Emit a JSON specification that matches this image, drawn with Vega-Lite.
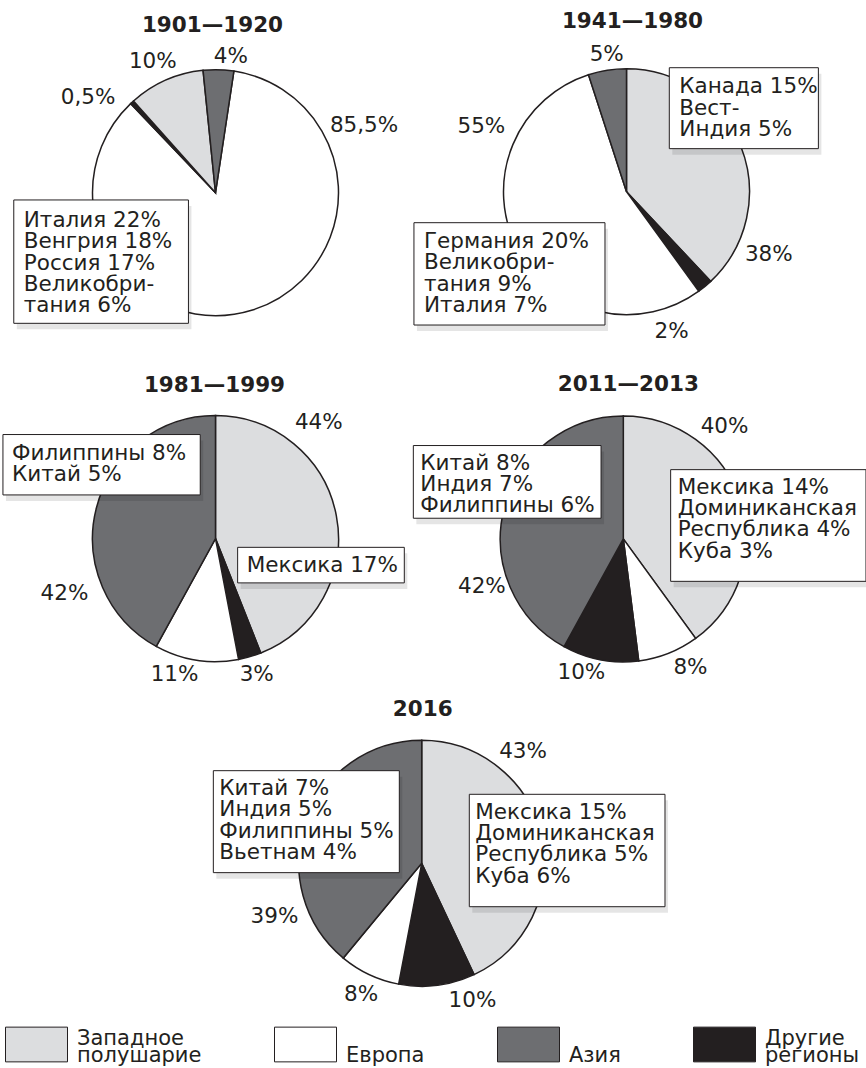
{
  "$schema": "https://vega.github.io/schema/vega-lite/v6.json",
  "padding": {"left": 0, "top": 11, "right": 0, "bottom": 0},
  "background": "white",
  "config": {
    "view": {"stroke": null},
    "font": "DejaVu Sans",
    "title": {"font": "DejaVu Sans", "fontSize": 21.5, "fontWeight": "bold", "color": "#231f20", "offset": 9, "anchor": "middle", "frame": "group"},
    "text": {"font": "DejaVu Sans", "fontSize": 21.5, "color": "#231f20"},
    "legend": {"orient": "bottom", "direction": "horizontal", "symbolType": "M-1,-0.56H1V0.56H-1Z", "symbolSize": 3844, "symbolStrokeColor": "#231f20", "symbolStrokeWidth": 1, "labelFont": "DejaVu Sans", "labelFontSize": 21, "labelColor": "#231f20", "labelOffset": 9, "labelBaseline": "alphabetic", "columnPadding": 70, "offset": -4, "padding": 5, "labelLimit": 300},
    "style": {"guide-label": {"lineHeight": 17.5}}
  },
  "datasets": {
    "shares": [
      {"period": "1901—1920", "region": "Европа", "share": 85.5, "k": 1},
      {"period": "1901—1920", "region": "Другие регионы", "share": 0.5, "k": 2},
      {"period": "1901—1920", "region": "Западное полушарие", "share": 10, "k": 3},
      {"period": "1901—1920", "region": "Азия", "share": 4, "k": 4},
      {"period": "1941—1980", "region": "Западное полушарие", "share": 38, "k": 1},
      {"period": "1941—1980", "region": "Другие регионы", "share": 2, "k": 2},
      {"period": "1941—1980", "region": "Европа", "share": 55, "k": 3},
      {"period": "1941—1980", "region": "Азия", "share": 5, "k": 4},
      {"period": "1981—1999", "region": "Западное полушарие", "share": 44, "k": 1},
      {"period": "1981—1999", "region": "Другие регионы", "share": 3, "k": 2},
      {"period": "1981—1999", "region": "Европа", "share": 11, "k": 3},
      {"period": "1981—1999", "region": "Азия", "share": 42, "k": 4},
      {"period": "2011—2013", "region": "Западное полушарие", "share": 40, "k": 1},
      {"period": "2011—2013", "region": "Европа", "share": 8, "k": 2},
      {"period": "2011—2013", "region": "Другие регионы", "share": 10, "k": 3},
      {"period": "2011—2013", "region": "Азия", "share": 42, "k": 4},
      {"period": "2016", "region": "Западное полушарие", "share": 43, "k": 1},
      {"period": "2016", "region": "Другие регионы", "share": 10, "k": 2},
      {"period": "2016", "region": "Европа", "share": 8, "k": 3},
      {"period": "2016", "region": "Азия", "share": 39, "k": 4}
    ],
    "labels": [
      {"period": "1901—1920", "text": "85,5%", "x": 1.208, "y": -0.496},
      {"period": "1901—1920", "text": "0,5%", "x": -1.036, "y": -0.721},
      {"period": "1901—1920", "text": "10%", "x": -0.51, "y": -1.011},
      {"period": "1901—1920", "text": "4%", "x": 0.124, "y": -1.057},
      {"period": "1941—1980", "text": "38%", "x": 1.157, "y": 0.561},
      {"period": "1941—1980", "text": "2%", "x": 0.367, "y": 1.192},
      {"period": "1941—1980", "text": "55%", "x": -1.18, "y": -0.475},
      {"period": "1941—1980", "text": "5%", "x": -0.161, "y": -1.063},
      {"period": "1981—1999", "text": "44%", "x": 0.84, "y": -0.892},
      {"period": "1981—1999", "text": "3%", "x": 0.335, "y": 1.16},
      {"period": "1981—1999", "text": "11%", "x": -0.333, "y": 1.16},
      {"period": "1981—1999", "text": "42%", "x": -1.228, "y": 0.498},
      {"period": "2011—2013", "text": "40%", "x": 0.823, "y": -0.859},
      {"period": "2011—2013", "text": "8%", "x": 0.546, "y": 1.098},
      {"period": "2011—2013", "text": "10%", "x": -0.341, "y": 1.138},
      {"period": "2011—2013", "text": "42%", "x": -1.15, "y": 0.439},
      {"period": "2016", "text": "43%", "x": 0.824, "y": -0.854},
      {"period": "2016", "text": "10%", "x": 0.413, "y": 1.166},
      {"period": "2016", "text": "8%", "x": -0.493, "y": 1.12},
      {"period": "2016", "text": "39%", "x": -1.197, "y": 0.488}
    ],
    "boxes": [
      {"period": "1901—1920", "x": -1.64, "x2": -0.22, "y": 0.059, "y2": 1.062, "text": "Италия 22%\nВенгрия 18%\nРоссия 17%\nВеликобри-\nтания 6%"},
      {"period": "1941—1980", "x": 0.348, "x2": 1.56, "y": -1.008, "y2": -0.35, "text": "Канада 15%\nВест-\nИндия 5%"},
      {"period": "1941—1980", "x": -1.728, "x2": -0.175, "y": 0.252, "y2": 1.084, "text": "Германия 20%\nВеликобри-\nтания 9%\nИталия 7%"},
      {"period": "1981—1999", "x": -1.728, "x2": -0.124, "y": -0.846, "y2": -0.355, "text": "Филиппины 8%\nКитай 5%"},
      {"period": "1981—1999", "x": 0.18, "x2": 1.535, "y": 0.071, "y2": 0.36, "text": "Мексика 17%"},
      {"period": "2011—2013", "x": -1.707, "x2": -0.181, "y": -0.759, "y2": -0.168, "text": "Китай 8%\nИндия 7%\nФилиппины 6%"},
      {"period": "2011—2013", "x": 0.385, "x2": 1.973, "y": -0.563, "y2": 0.345, "text": "Мексика 14%\nДоминиканская\nРеспублика 4%\nКуба 3%"},
      {"period": "2016", "x": -1.694, "x2": -0.182, "y": -0.753, "y2": 0.076, "text": "Китай 7%\nИндия 5%\nФилиппины 5%\nВьетнам  4%"},
      {"period": "2016", "x": 0.387, "x2": 1.978, "y": -0.561, "y2": 0.353, "text": "Мексика 15%\nДоминиканская\nРеспублика 5%\nКуба 6%"}
    ]
  },
  "resolve": {"scale": {"theta": "independent"}},
  "spacing": 12.7,
  "vconcat": [
    {
      "columns": 2,
      "align": "each",
      "bounds": "flush",
      "spacing": {"row": 60, "column": 0},
      "resolve": {"scale": {"theta": "independent"}},
      "concat": [
        {
          "width": 431, "height": 295.4,
          "title": {"text": "1901—1920", "offset": 9, "dx": -3},
          "layer": [
            {"data": {"name": "shares"}, "transform": [{"filter": {"field": "period", "equal": "1901—1920"}}],
             "mark": {"type": "arc", "outerRadius": 123, "stroke": "#231f20", "strokeWidth": 1.5},
             "encoding": {
               "theta": {"field": "share", "type": "quantitative", "stack": true, "scale": {"domain": [0, 100], "range": [0.15, 6.4332]}},
               "order": {"field": "k", "type": "quantitative"},
               "color": {"field": "region", "type": "nominal", "scale": {"domain": ["Западное полушарие", "Европа", "Азия", "Другие регионы"], "range": ["#dcdddf", "#ffffff", "#6d6e71", "#231f20"]}, "legend": {"title": null, "labelExpr": "indexof(datum.label, ' ') > 0 ? split(datum.label, ' ') : ['', datum.label]"}}
             }},
            {"data": {"name": "labels"}, "transform": [{"filter": {"field": "period", "equal": "1901—1920"}}],
             "mark": {"type": "text", "align": "center", "baseline": "alphabetic"},
             "encoding": {
               "x": {"field": "x", "type": "quantitative", "axis": null, "scale": {"domain": [-1.752, 1.752], "nice": false, "zero": false}},
               "y": {"field": "y", "type": "quantitative", "axis": null, "scale": {"domain": [-1.2008, 1.2008], "nice": false, "zero": false, "reverse": true}},
               "text": {"field": "text", "type": "nominal"}}},
            {"data": {"name": "boxes"}, "transform": [{"filter": {"field": "period", "equal": "1901—1920"}}],
             "mark": {"type": "rect", "fill": "#000000", "opacity": 0.1, "xOffset": 3, "x2Offset": 3, "yOffset": 6, "y2Offset": 6},
             "encoding": {
               "x": {"field": "x", "type": "quantitative", "axis": null, "scale": {"domain": [-1.752, 1.752], "nice": false, "zero": false}},
               "y": {"field": "y", "type": "quantitative", "axis": null, "scale": {"domain": [-1.2008, 1.2008], "nice": false, "zero": false, "reverse": true}},
               "x2": {"field": "x2"}, "y2": {"field": "y2"}}},
            {"data": {"name": "boxes"}, "transform": [{"filter": {"field": "period", "equal": "1901—1920"}}],
             "mark": {"type": "rect", "fill": "#ffffff", "stroke": "#231f20", "strokeWidth": 1},
             "encoding": {
               "x": {"field": "x", "type": "quantitative", "axis": null, "scale": {"domain": [-1.752, 1.752], "nice": false, "zero": false}},
               "y": {"field": "y", "type": "quantitative", "axis": null, "scale": {"domain": [-1.2008, 1.2008], "nice": false, "zero": false, "reverse": true}},
               "x2": {"field": "x2"}, "y2": {"field": "y2"}}},
            {"data": {"name": "boxes"}, "transform": [{"filter": {"field": "period", "equal": "1901—1920"}}],
             "mark": {"type": "text", "align": "left", "baseline": "alphabetic", "dx": 10, "dy": 27, "lineBreak": "\n", "lineHeight": 21.3},
             "encoding": {
               "x": {"field": "x", "type": "quantitative", "axis": null, "scale": {"domain": [-1.752, 1.752], "nice": false, "zero": false}},
               "y": {"field": "y", "type": "quantitative", "axis": null, "scale": {"domain": [-1.2008, 1.2008], "nice": false, "zero": false, "reverse": true}},
               "text": {"field": "text", "type": "nominal"}}}
          ]
        },
        {
          "width": 391, "height": 293.4,
          "title": {"text": "1941—1980", "offset": 11, "dx": 6},
          "layer": [
            {"data": {"name": "shares"}, "transform": [{"filter": {"field": "period", "equal": "1941—1980"}}],
             "mark": {"type": "arc", "outerRadius": 123, "stroke": "#231f20", "strokeWidth": 1.5},
             "encoding": {
               "theta": {"field": "share", "type": "quantitative", "stack": true, "scale": {"domain": [0, 100], "range": [0, 6.2832]}},
               "order": {"field": "k", "type": "quantitative"},
               "color": {"field": "region", "type": "nominal", "scale": {"domain": ["Западное полушарие", "Европа", "Азия", "Другие регионы"], "range": ["#dcdddf", "#ffffff", "#6d6e71", "#231f20"]}, "legend": {"title": null, "labelExpr": "indexof(datum.label, ' ') > 0 ? split(datum.label, ' ') : ['', datum.label]"}}
             }},
            {"data": {"name": "labels"}, "transform": [{"filter": {"field": "period", "equal": "1941—1980"}}],
             "mark": {"type": "text", "align": "center", "baseline": "alphabetic"},
             "encoding": {
               "x": {"field": "x", "type": "quantitative", "axis": null, "scale": {"domain": [-1.5894, 1.5894], "nice": false, "zero": false}},
               "y": {"field": "y", "type": "quantitative", "axis": null, "scale": {"domain": [-1.1927, 1.1927], "nice": false, "zero": false, "reverse": true}},
               "text": {"field": "text", "type": "nominal"}}},
            {"data": {"name": "boxes"}, "transform": [{"filter": {"field": "period", "equal": "1941—1980"}}],
             "mark": {"type": "rect", "fill": "#000000", "opacity": 0.1, "xOffset": 3, "x2Offset": 3, "yOffset": 6, "y2Offset": 6},
             "encoding": {
               "x": {"field": "x", "type": "quantitative", "axis": null, "scale": {"domain": [-1.5894, 1.5894], "nice": false, "zero": false}},
               "y": {"field": "y", "type": "quantitative", "axis": null, "scale": {"domain": [-1.1927, 1.1927], "nice": false, "zero": false, "reverse": true}},
               "x2": {"field": "x2"}, "y2": {"field": "y2"}}},
            {"data": {"name": "boxes"}, "transform": [{"filter": {"field": "period", "equal": "1941—1980"}}],
             "mark": {"type": "rect", "fill": "#ffffff", "stroke": "#231f20", "strokeWidth": 1},
             "encoding": {
               "x": {"field": "x", "type": "quantitative", "axis": null, "scale": {"domain": [-1.5894, 1.5894], "nice": false, "zero": false}},
               "y": {"field": "y", "type": "quantitative", "axis": null, "scale": {"domain": [-1.1927, 1.1927], "nice": false, "zero": false, "reverse": true}},
               "x2": {"field": "x2"}, "y2": {"field": "y2"}}},
            {"data": {"name": "boxes"}, "transform": [{"filter": {"field": "period", "equal": "1941—1980"}}],
             "mark": {"type": "text", "align": "left", "baseline": "alphabetic", "dx": 10, "dy": 25.5, "lineBreak": "\n", "lineHeight": 21.3},
             "encoding": {
               "x": {"field": "x", "type": "quantitative", "axis": null, "scale": {"domain": [-1.5894, 1.5894], "nice": false, "zero": false}},
               "y": {"field": "y", "type": "quantitative", "axis": null, "scale": {"domain": [-1.1927, 1.1927], "nice": false, "zero": false, "reverse": true}},
               "text": {"field": "text", "type": "nominal"}}}
          ]
        },
        {
          "width": 431, "height": 275.2,
          "title": {"text": "1981—1999", "offset": 4.7, "dx": -1},
          "layer": [
            {"data": {"name": "shares"}, "transform": [{"filter": {"field": "period", "equal": "1981—1999"}}],
             "mark": {"type": "arc", "outerRadius": 123, "stroke": "#231f20", "strokeWidth": 1.5},
             "encoding": {
               "theta": {"field": "share", "type": "quantitative", "stack": true, "scale": {"domain": [0, 100], "range": [0, 6.2832]}},
               "order": {"field": "k", "type": "quantitative"},
               "color": {"field": "region", "type": "nominal", "scale": {"domain": ["Западное полушарие", "Европа", "Азия", "Другие регионы"], "range": ["#dcdddf", "#ffffff", "#6d6e71", "#231f20"]}, "legend": {"title": null, "labelExpr": "indexof(datum.label, ' ') > 0 ? split(datum.label, ' ') : ['', datum.label]"}}
             }},
            {"data": {"name": "labels"}, "transform": [{"filter": {"field": "period", "equal": "1981—1999"}}],
             "mark": {"type": "text", "align": "center", "baseline": "alphabetic"},
             "encoding": {
               "x": {"field": "x", "type": "quantitative", "axis": null, "scale": {"domain": [-1.752, 1.752], "nice": false, "zero": false}},
               "y": {"field": "y", "type": "quantitative", "axis": null, "scale": {"domain": [-1.1187, 1.1187], "nice": false, "zero": false, "reverse": true}},
               "text": {"field": "text", "type": "nominal"}}},
            {"data": {"name": "boxes"}, "transform": [{"filter": {"field": "period", "equal": "1981—1999"}}],
             "mark": {"type": "rect", "fill": "#000000", "opacity": 0.1, "xOffset": 3, "x2Offset": 3, "yOffset": 6, "y2Offset": 6},
             "encoding": {
               "x": {"field": "x", "type": "quantitative", "axis": null, "scale": {"domain": [-1.752, 1.752], "nice": false, "zero": false}},
               "y": {"field": "y", "type": "quantitative", "axis": null, "scale": {"domain": [-1.1187, 1.1187], "nice": false, "zero": false, "reverse": true}},
               "x2": {"field": "x2"}, "y2": {"field": "y2"}}},
            {"data": {"name": "boxes"}, "transform": [{"filter": {"field": "period", "equal": "1981—1999"}}],
             "mark": {"type": "rect", "fill": "#ffffff", "stroke": "#231f20", "strokeWidth": 1},
             "encoding": {
               "x": {"field": "x", "type": "quantitative", "axis": null, "scale": {"domain": [-1.752, 1.752], "nice": false, "zero": false}},
               "y": {"field": "y", "type": "quantitative", "axis": null, "scale": {"domain": [-1.1187, 1.1187], "nice": false, "zero": false, "reverse": true}},
               "x2": {"field": "x2"}, "y2": {"field": "y2"}}},
            {"data": {"name": "boxes"}, "transform": [{"filter": {"field": "period", "equal": "1981—1999"}}],
             "mark": {"type": "text", "align": "left", "baseline": "alphabetic", "dx": 9, "dy": 25, "lineBreak": "\n", "lineHeight": 21.3},
             "encoding": {
               "x": {"field": "x", "type": "quantitative", "axis": null, "scale": {"domain": [-1.752, 1.752], "nice": false, "zero": false}},
               "y": {"field": "y", "type": "quantitative", "axis": null, "scale": {"domain": [-1.1187, 1.1187], "nice": false, "zero": false, "reverse": true}},
               "text": {"field": "text", "type": "nominal"}}}
          ]
        },
        {
          "width": 384.6, "height": 275.8,
          "title": {"text": "2011—2013", "offset": 5.7, "dx": 5},
          "layer": [
            {"data": {"name": "shares"}, "transform": [{"filter": {"field": "period", "equal": "2011—2013"}}],
             "mark": {"type": "arc", "outerRadius": 123, "stroke": "#231f20", "strokeWidth": 1.5},
             "encoding": {
               "theta": {"field": "share", "type": "quantitative", "stack": true, "scale": {"domain": [0, 100], "range": [0, 6.2832]}},
               "order": {"field": "k", "type": "quantitative"},
               "color": {"field": "region", "type": "nominal", "scale": {"domain": ["Западное полушарие", "Европа", "Азия", "Другие регионы"], "range": ["#dcdddf", "#ffffff", "#6d6e71", "#231f20"]}, "legend": {"title": null, "labelExpr": "indexof(datum.label, ' ') > 0 ? split(datum.label, ' ') : ['', datum.label]"}}
             }},
            {"data": {"name": "labels"}, "transform": [{"filter": {"field": "period", "equal": "2011—2013"}}],
             "mark": {"type": "text", "align": "center", "baseline": "alphabetic"},
             "encoding": {
               "x": {"field": "x", "type": "quantitative", "axis": null, "scale": {"domain": [-1.5634, 1.5634], "nice": false, "zero": false}},
               "y": {"field": "y", "type": "quantitative", "axis": null, "scale": {"domain": [-1.1211, 1.1211], "nice": false, "zero": false, "reverse": true}},
               "text": {"field": "text", "type": "nominal"}}},
            {"data": {"name": "boxes"}, "transform": [{"filter": {"field": "period", "equal": "2011—2013"}}],
             "mark": {"type": "rect", "fill": "#000000", "opacity": 0.1, "xOffset": 3, "x2Offset": 3, "yOffset": 6, "y2Offset": 6},
             "encoding": {
               "x": {"field": "x", "type": "quantitative", "axis": null, "scale": {"domain": [-1.5634, 1.5634], "nice": false, "zero": false}},
               "y": {"field": "y", "type": "quantitative", "axis": null, "scale": {"domain": [-1.1211, 1.1211], "nice": false, "zero": false, "reverse": true}},
               "x2": {"field": "x2"}, "y2": {"field": "y2"}}},
            {"data": {"name": "boxes"}, "transform": [{"filter": {"field": "period", "equal": "2011—2013"}}],
             "mark": {"type": "rect", "fill": "#ffffff", "stroke": "#231f20", "strokeWidth": 1},
             "encoding": {
               "x": {"field": "x", "type": "quantitative", "axis": null, "scale": {"domain": [-1.5634, 1.5634], "nice": false, "zero": false}},
               "y": {"field": "y", "type": "quantitative", "axis": null, "scale": {"domain": [-1.1211, 1.1211], "nice": false, "zero": false, "reverse": true}},
               "x2": {"field": "x2"}, "y2": {"field": "y2"}}},
            {"data": {"name": "boxes"}, "transform": [{"filter": {"field": "period", "equal": "2011—2013"}}],
             "mark": {"type": "text", "align": "left", "baseline": "alphabetic", "dx": 7, "dy": 24, "lineBreak": "\n", "lineHeight": 21.3},
             "encoding": {
               "x": {"field": "x", "type": "quantitative", "axis": null, "scale": {"domain": [-1.5634, 1.5634], "nice": false, "zero": false}},
               "y": {"field": "y", "type": "quantitative", "axis": null, "scale": {"domain": [-1.1211, 1.1211], "nice": false, "zero": false, "reverse": true}},
               "text": {"field": "text", "type": "nominal"}}}
          ]
        }
      ]
    },
    {
      "width": 843.4, "height": 267.2,
      "title": {"text": "2016", "offset": 9, "dx": 1},
      "layer": [
        {"data": {"name": "shares"}, "transform": [{"filter": {"field": "period", "equal": "2016"}}],
         "mark": {"type": "arc", "outerRadius": 123, "stroke": "#231f20", "strokeWidth": 1.5},
         "encoding": {
           "theta": {"field": "share", "type": "quantitative", "stack": true, "scale": {"domain": [0, 100], "range": [0, 6.2832]}},
           "order": {"field": "k", "type": "quantitative"},
           "color": {"field": "region", "type": "nominal", "scale": {"domain": ["Западное полушарие", "Европа", "Азия", "Другие регионы"], "range": ["#dcdddf", "#ffffff", "#6d6e71", "#231f20"]}, "legend": {"title": null, "labelExpr": "indexof(datum.label, ' ') > 0 ? split(datum.label, ' ') : ['', datum.label]"}}
         }},
        {"data": {"name": "labels"}, "transform": [{"filter": {"field": "period", "equal": "2016"}}],
         "mark": {"type": "text", "align": "center", "baseline": "alphabetic"},
         "encoding": {
           "x": {"field": "x", "type": "quantitative", "axis": null, "scale": {"domain": [-3.4285, 3.4285], "nice": false, "zero": false}},
           "y": {"field": "y", "type": "quantitative", "axis": null, "scale": {"domain": [-1.0862, 1.0862], "nice": false, "zero": false, "reverse": true}},
           "text": {"field": "text", "type": "nominal"}}},
        {"data": {"name": "boxes"}, "transform": [{"filter": {"field": "period", "equal": "2016"}}],
         "mark": {"type": "rect", "fill": "#000000", "opacity": 0.1, "xOffset": 3, "x2Offset": 3, "yOffset": 6, "y2Offset": 6},
         "encoding": {
           "x": {"field": "x", "type": "quantitative", "axis": null, "scale": {"domain": [-3.4285, 3.4285], "nice": false, "zero": false}},
           "y": {"field": "y", "type": "quantitative", "axis": null, "scale": {"domain": [-1.0862, 1.0862], "nice": false, "zero": false, "reverse": true}},
           "x2": {"field": "x2"}, "y2": {"field": "y2"}}},
        {"data": {"name": "boxes"}, "transform": [{"filter": {"field": "period", "equal": "2016"}}],
         "mark": {"type": "rect", "fill": "#ffffff", "stroke": "#231f20", "strokeWidth": 1},
         "encoding": {
           "x": {"field": "x", "type": "quantitative", "axis": null, "scale": {"domain": [-3.4285, 3.4285], "nice": false, "zero": false}},
           "y": {"field": "y", "type": "quantitative", "axis": null, "scale": {"domain": [-1.0862, 1.0862], "nice": false, "zero": false, "reverse": true}},
           "x2": {"field": "x2"}, "y2": {"field": "y2"}}},
        {"data": {"name": "boxes"}, "transform": [{"filter": {"field": "period", "equal": "2016"}}],
         "mark": {"type": "text", "align": "left", "baseline": "alphabetic", "dx": 6, "dy": 24.5, "lineBreak": "\n", "lineHeight": 21.3},
         "encoding": {
           "x": {"field": "x", "type": "quantitative", "axis": null, "scale": {"domain": [-3.4285, 3.4285], "nice": false, "zero": false}},
           "y": {"field": "y", "type": "quantitative", "axis": null, "scale": {"domain": [-1.0862, 1.0862], "nice": false, "zero": false, "reverse": true}},
           "text": {"field": "text", "type": "nominal"}}}
      ]
    }
  ]
}
